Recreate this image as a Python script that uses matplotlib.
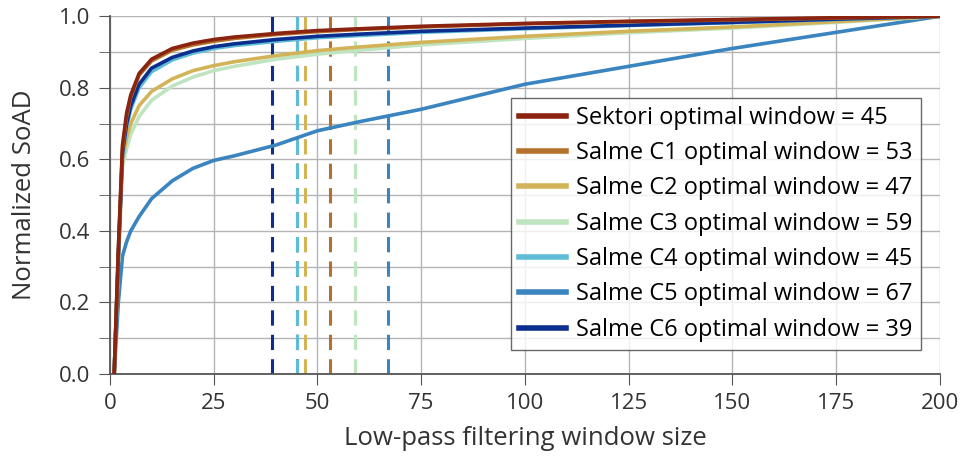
#-------------------------------------------------------------------------------
# Normalized SoAD vs low-pass filtering window size
#-------------------------------------------------------------------------------
import matplotlib
matplotlib.use("Agg")
import matplotlib.pyplot as plt
from matplotlib.ticker import MultipleLocator

#-------------------------------------------------------------------------------
# Data
#-------------------------------------------------------------------------------
window = [1, 2, 3, 4, 5, 7, 10, 15, 20, 25, 30, 40, 50, 60, 75, 100, 125, 150, 175, 200]

sektori = [0, 0.35, 0.64, 0.73, 0.78, 0.84, 0.88, 0.91, 0.925, 0.935, 0.942, 0.952,
           0.96, 0.965, 0.972, 0.98, 0.986, 0.991, 0.996, 1.0]
salme_c1 = [0, 0.34, 0.63, 0.72, 0.775, 0.835, 0.875, 0.905, 0.92, 0.93, 0.938, 0.949,
            0.957, 0.963, 0.97, 0.979, 0.985, 0.99, 0.995, 1.0]
salme_c2 = [0, 0.32, 0.60, 0.66, 0.70, 0.75, 0.79, 0.825, 0.848, 0.862, 0.873, 0.89,
            0.904, 0.914, 0.927, 0.944, 0.958, 0.97, 0.985, 1.0]
salme_c3 = [0, 0.31, 0.58, 0.63, 0.67, 0.72, 0.765, 0.805, 0.83, 0.848, 0.86, 0.88,
            0.894, 0.905, 0.92, 0.938, 0.954, 0.967, 0.983, 1.0]
salme_c4 = [0, 0.33, 0.61, 0.69, 0.74, 0.80, 0.845, 0.878, 0.897, 0.91, 0.918, 0.93,
            0.94, 0.946, 0.955, 0.965, 0.974, 0.982, 0.991, 1.0]
salme_c5 = [0, 0.20, 0.33, 0.37, 0.40, 0.44, 0.49, 0.54, 0.575, 0.597, 0.61, 0.64,
            0.68, 0.705, 0.74, 0.81, 0.86, 0.91, 0.955, 1.0]
salme_c6 = [0, 0.33, 0.62, 0.70, 0.75, 0.81, 0.855, 0.885, 0.903, 0.915, 0.923, 0.935,
            0.944, 0.95, 0.958, 0.967, 0.975, 0.983, 0.992, 1.0]

names = ["Sektori", "Salme C1", "Salme C2", "Salme C3", "Salme C4", "Salme C5", "Salme C6"]
optimal = [45, 53, 47, 59, 45, 67, 39]
series = [sektori, salme_c1, salme_c2, salme_c3, salme_c4, salme_c5, salme_c6]
colors = ["#8a2410", "#b4712c", "#d2b358", "#bfe4c0", "#5ebcd6", "#3a84bf", "#0c2e8e"]

#-------------------------------------------------------------------------------
# Make the Graph
#-------------------------------------------------------------------------------
plt.rcParams['font.family'] = ['Open Sans', 'DejaVu Sans']

fig = plt.figure(figsize=(9.67, 4.61), dpi=100)
ax = fig.add_axes([0.1138, 0.1887, 0.858, 0.776])

# dashed optimal window markers
for opt, col in zip(optimal, colors):
    ax.axvline(opt, color=col, linestyle=(0, (5, 3)), linewidth=2.2, zorder=2)

# curves (bottom ones first so the top ones sit above)
order = [5, 3, 2, 4, 6, 1, 0]
lines = {}
for i in order:
    lines[i], = ax.plot(window, series[i], color=colors[i], linewidth=2.6, zorder=3,
                        label=f"{names[i]} optimal window = {optimal[i]}")

ax.set_xlim(0, 200)
ax.set_ylim(0, 1.0)
ax.xaxis.set_major_locator(MultipleLocator(25))
ax.yaxis.set_major_locator(MultipleLocator(0.2))
ax.yaxis.set_minor_locator(MultipleLocator(0.1))
ax.yaxis.set_major_formatter(matplotlib.ticker.FormatStrFormatter('%.1f'))
ax.grid(True, which='both', color='#b4b4b4', linewidth=1)
ax.set_axisbelow(True)

for s in ['top', 'right']:
    ax.spines[s].set_visible(False)
for s in ['left', 'bottom']:
    ax.spines[s].set_color('#555555')
    ax.spines[s].set_linewidth(1.3)
ax.tick_params(which='both', direction='out', length=8, color='#555555',
               labelsize=16, labelcolor='#333333')
ax.tick_params(axis='x', pad=6)
ax.tick_params(axis='y', pad=6)

ax.set_xlabel("Low-pass filtering window size", fontsize=18.5, color='#333333', labelpad=8)
ax.set_ylabel("Normalized SoAD", fontsize=18.5, color='#333333', labelpad=16)

handles = [lines[i] for i in range(7)]
leg = ax.legend(handles=handles, loc='lower right', bbox_to_anchor=(0.977, 0.067),
                fontsize=17, frameon=True, fancybox=False, handlelength=2.0,
                handletextpad=0.4, labelspacing=0.48, borderpad=0.35,
                borderaxespad=0)
leg.get_frame().set_edgecolor('#444444')
leg.get_frame().set_linewidth(1)
for l in leg.get_lines():
    l.set_linewidth(4)

fig.savefig("out.png", dpi=100)
